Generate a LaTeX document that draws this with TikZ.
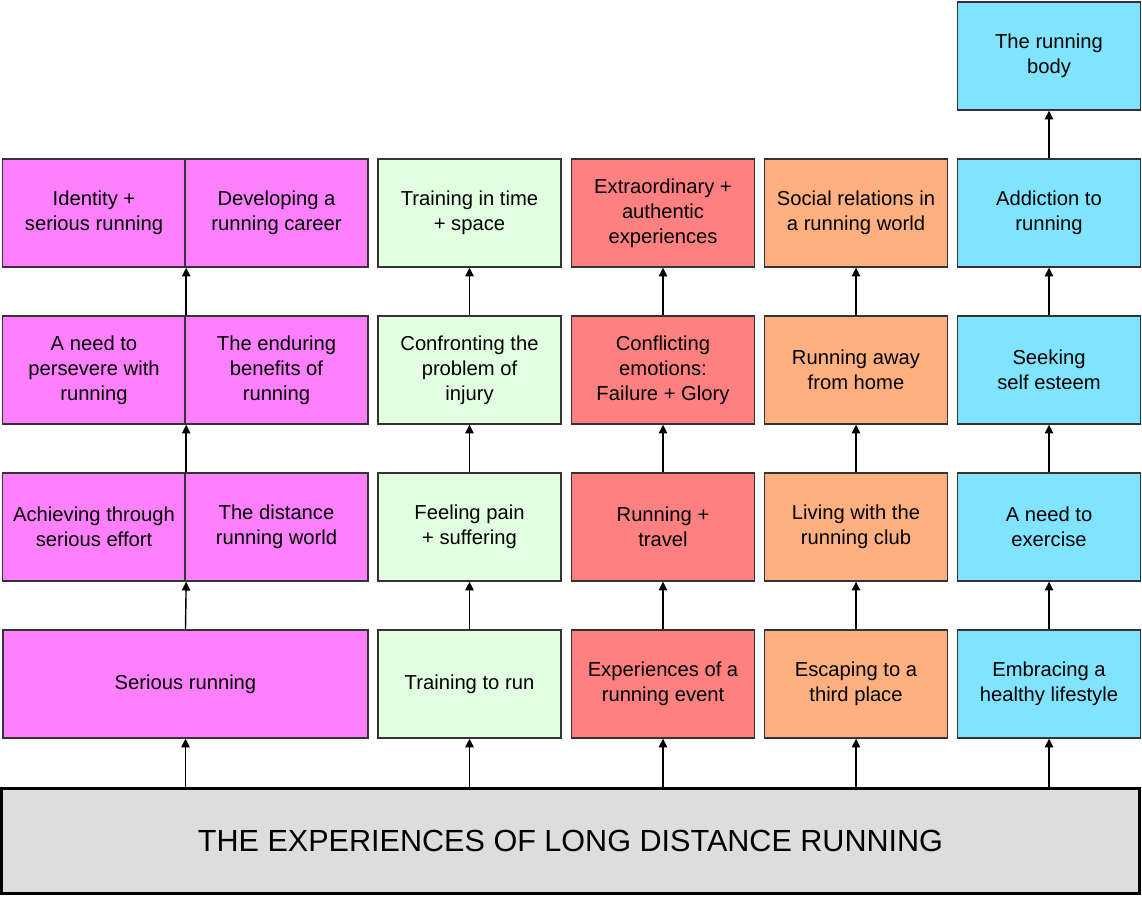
\documentclass[tikz,border=0pt]{standalone}
\usepackage{fontspec}
\setmainfont{Liberation Sans}
\usetikzlibrary{arrows.meta}
\definecolor{serious}{HTML}{FF80FF}
\definecolor{training}{HTML}{E2FFE2}
\definecolor{event}{HTML}{FF8080}
\definecolor{escape}{HTML}{FFB080}
\definecolor{health}{HTML}{80E4FF}
\definecolor{basegray}{HTML}{DDDDDD}
\tikzset{
  theme/.style={draw=black!80, line width=0.8pt, minimum width=3.66cm, minimum height=2.16cm,
    align=center, inner sep=2pt, font=\fontsize{11.5}{14.2}\selectfont},
  link/.style={-{Triangle[length=5pt,width=4.8pt]}, line width=0.8pt}
}
\begin{document}
\begin{tikzpicture}[x=0.02cm, y=-0.02cm]
\useasboundingbox (0,0) rectangle (1142,896);
\node[draw=black, line width=1.6pt, fill=basegray, minimum width=22.76cm, minimum height=2.1cm,
  font=\fontsize{17.4}{20}\selectfont] (base) at (570.5,841) {THE EXPERIENCES OF LONG DISTANCE RUNNING};

\node[theme, fill=serious, minimum width=7.3cm] (serious) at (185.5,684) {Serious running};
\node[theme, fill=serious] (achieving) at (94,527) {Achieving through\\serious effort};
\node[theme, fill=serious] (distance) at (276.5,527) {The distance\\running world};
\node[theme, fill=serious] (persevere) at (94,370) {A need to\\persevere with\\running};
\node[theme, fill=serious] (enduring) at (276.5,370) {The enduring\\benefits of\\running};
\node[theme, fill=serious] (identity) at (94,213) {Identity +\\serious running};
\node[theme, fill=serious] (career) at (276.5,213) {Developing a\\running career};

\node[theme, fill=training] (trainrun) at (469.5,684) {Training to run};
\node[theme, fill=training] (pain) at (469.5,527) {Feeling pain\\+ suffering};
\node[theme, fill=training] (injury) at (469.5,370) {Confronting the\\problem of\\injury};
\node[theme, fill=training] (timespace) at (469.5,213) {Training in time\\+ space};

\node[theme, fill=event] (event) at (663,684) {Experiences of a\\running event};
\node[theme, fill=event] (travel) at (663,527) {Running +\\travel};
\node[theme, fill=event] (emotions) at (663,370) {Conflicting\\emotions:\\Failure + Glory};
\node[theme, fill=event] (extra) at (663,213) {Extraordinary +\\authentic\\experiences};

\node[theme, fill=escape] (third) at (856,684) {Escaping to a\\third place};
\node[theme, fill=escape] (club) at (856,527) {Living with the\\running club};
\node[theme, fill=escape] (away) at (856,370) {Running away\\from home};
\node[theme, fill=escape] (social) at (856,213) {Social relations in\\a running world};

\node[theme, fill=health] (lifestyle) at (1049,684) {Embracing a\\healthy lifestyle};
\node[theme, fill=health] (exercise) at (1049,527) {A need to\\exercise};
\node[theme, fill=health] (esteem) at (1049,370) {Seeking\\self esteem};
\node[theme, fill=health] (addiction) at (1049,213) {Addiction to\\running};
\node[theme, fill=health] (body) at (1049,56) {The running\\body};

\draw[link] (base.north -| serious) -- (serious.south);
\draw[link] (base.north -| trainrun) -- (trainrun.south);
\draw[link] (base.north -| event) -- (event.south);
\draw[link] (base.north -| third) -- (third.south);
\draw[link] (base.north -| lifestyle) -- (lifestyle.south);

\draw[link] (serious.north) -- (achieving.south east);
\draw[link] (achieving.north east) -- (persevere.south east);
\draw[link] (persevere.north east) -- (identity.south east);
\draw[link] (trainrun) -- (pain);
\draw[link] (pain) -- (injury);
\draw[link] (injury) -- (timespace);
\draw[link] (event) -- (travel);
\draw[link] (travel) -- (emotions);
\draw[link] (emotions) -- (extra);
\draw[link] (third) -- (club);
\draw[link] (club) -- (away);
\draw[link] (away) -- (social);
\draw[link] (lifestyle) -- (exercise);
\draw[link] (exercise) -- (esteem);
\draw[link] (esteem) -- (addiction);
\draw[link] (addiction) -- (body);
\end{tikzpicture}
\end{document}
